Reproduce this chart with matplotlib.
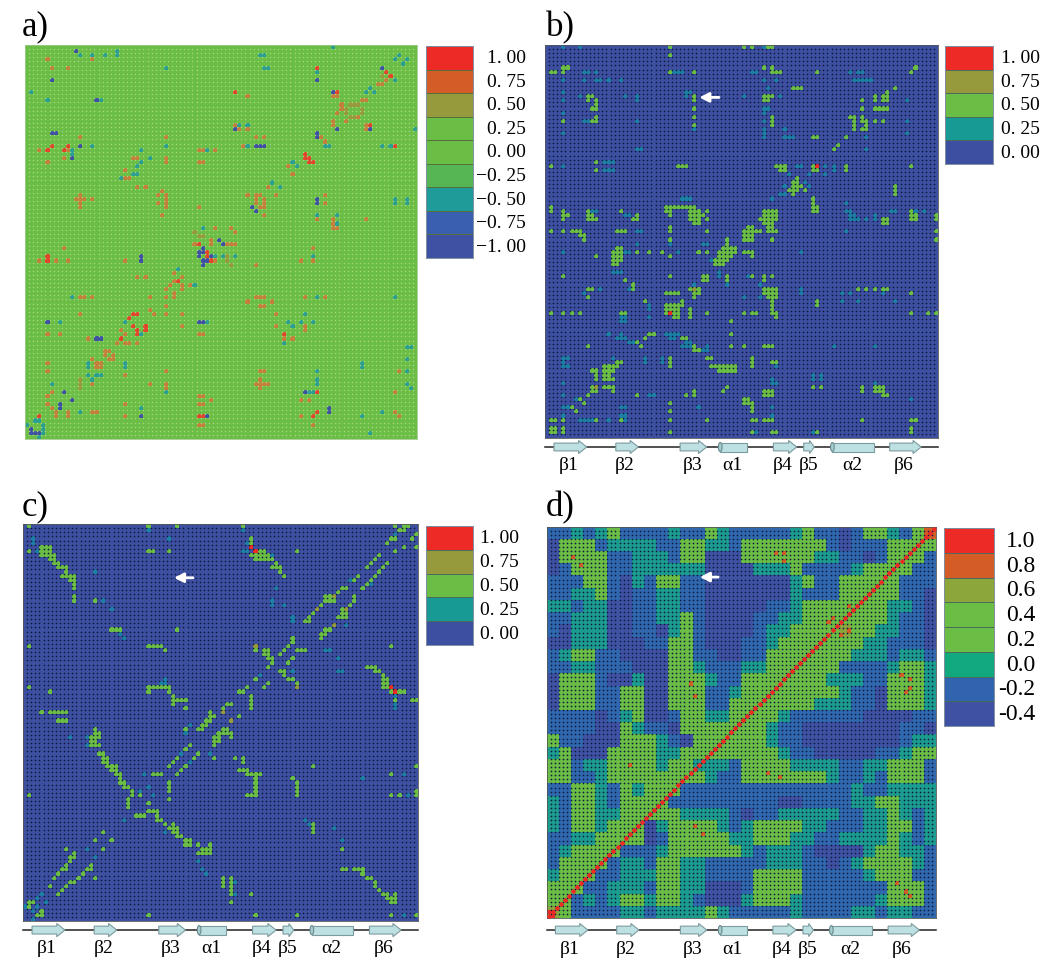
import numpy as np
import matplotlib
matplotlib.use("Agg")
import matplotlib.pyplot as plt
from matplotlib.colors import ListedColormap, BoundaryNorm
from matplotlib.patches import Polygon, Ellipse, Rectangle

N = 96
W, H = 1050, 962
SERIF = "Liberation Serif"

# ---- colour scales ----
A_LEVELS = [-1.0, -0.75, -0.5, -0.25, 0.0, 0.25, 0.5, 0.75, 1.0]
A_COLORS = ["#3f51a3", "#3a5fb0", "#1f9c9a", "#55b653", "#6abd45", "#6abd45", "#979a3c", "#d35c27", "#ee2a27"]
A_MAP_COLORS = ["#3f51a3", "#3a5fb0", "#2a9f92", "#55b653", "#6abd45", "#6abd45", "#979a3c", "#c47f3a", "#e2452c"]
A_LABELS = ["\u22121. 00", "\u22120. 75", "\u22120. 50", "\u22120. 25", "0. 00", "0. 25", "0. 50", "0. 75", "1. 00"]
B_LEVELS = [0.0, 0.25, 0.5, 0.75, 1.0]
B_COLORS = ["#3d4fa1", "#179a94", "#6abd45", "#979a3c", "#ee2a27"]
B_MAP_COLORS = ["#3d4fa1", "#1c7fa6", "#6abd45", "#979a3c", "#ee2a27"]
B_LABELS = ["0. 00", "0. 25", "0. 50", "0. 75", "1. 00"]
D_LEVELS = [-0.4, -0.2, 0.0, 0.2, 0.4, 0.6, 0.8, 1.0]
D_COLORS = ["#3f51a3", "#3064af", "#12a97e", "#6abd45", "#6abd45", "#8ca63c", "#d35c27", "#ee2a27"]
D_MAP_COLORS = ["#3f51a3", "#2f68ae", "#1c9c8f", "#6abd45", "#6abd45", "#8ca63c", "#d35c27", "#ee2a27"]
D_LABELS = ["-0.4", "-0.2", "0.0", "0.2", "0.4", "0.6", "0.8", "1.0"]

# ---- panel a: sparse cells, (row, col, col, ...) counted from the top left ----
A_DEEP = [(1,12),(8,71),(8,6),(5,87),(20,51),(21,6,7),(21,71),(22,71),(24,13),(24,56,57,58),(27,11),(11,75),(20,84),(20,76),
          (37,71),(38,71),(39,55),(40,56),(44,75),(47,47),(48,48),(49,43),(50,42,43),(51,42,44,45),(52,43,44,28),(53,43),
          (51,28),(51,5),(67,5),(67,42,43),(71,17,18),(84,9),(84,68),(86,11),(87,8),(88,8),(88,74),(89,74),(90,28),(90,44),
          (93,1),(94,1),(94,2,3),(13,17),(5,58)]
A_TEAL = [(2,13),(2,16),(2,19),(1,22),(2,22),(2,57,58),(0,75),(2,91),(3,90),(5,34),(5,58,59),(6,71),(8,90),(3,93),(4,92),
          (11,1),(13,5),(13,18),(11,83),(10,84),(11,85),(19,54),(19,52),(20,95),(24,73,74),(24,16),(25,28),(24,34),(25,44),
          (24,54),(24,87),(24,89),(25,11),(26,11),(27,30),(28,28),(29,27),(31,26),(31,27),(32,23,24),(29,66),(28,65),
          (33,60),(34,62),(37,90),(38,90),(37,93),(38,93),(41,71),(41,76),(43,76),(44,43),(46,43),(51,46),(51,48),(51,51),
          (51,70),(54,37),(58,41),(61,11),(61,71),(61,90),(65,68),(67,8),(67,44),(67,64),(68,65),(67,67),(67,70),(67,24),
          (70,28),(71,63),(72,63),(73,93,94),(76,93),(77,82),(78,82),(77,15),(78,15),(77,24),(78,24),(79,93),(79,71),
          (80,15),(80,18,17),(81,16),(81,71),(82,71),(82,6),(82,93),(83,94),(84,34),(84,69,70),(88,28),(89,13),(90,82),
          (89,87),(91,2,3),(92,0),(92,4),(93,4),(94,4),(95,3),(94,84)]
A_OLIVE = [(14,79,80,81),(15,78,82),(16,78,82),(17,79,80,81),(7,87),(45,41),(46,42,43),(52,49),(53,50),(51,49),(36,57),
           (82,13),(81,13),(83,13)]
A_ORANGE = [(3,5),(5,6),(5,10),(3,16),(12,54),(14,77),(15,77),(16,76),(18,78),(17,81),(13,82),(13,83),(18,75),(19,75),(8,88),
            (9,86),(9,87),(12,75),(12,76),(19,83),(20,83),(19,51),(20,52),(20,54),(22,13),(22,34),(22,56),(22,58),(22,72),
            (23,73),(25,3),(25,10),(25,42,43),(25,46),(24,53),(27,26,27),(27,34),(28,34),(28,5),(27,9),(28,42,43),(29,64),
            (31,65),(30,24),(32,24),(32,25),(34,27),(34,29),(34,59),(36,61),(36,13),(37,12,13,14,16),(38,13),(39,13),(35,33),
            (36,32),(38,32),(36,34),(37,34),(38,34),(39,34),(36,54),(36,56,57),(37,56,58),(38,56,58),(39,57,58),(36,73),
            (38,73),(41,33),(39,42),(41,58),(42,71),(42,75),(43,75),(44,75),(44,76),(42,83),(44,46),(44,50),(45,51),(47,45),
            (48,41),(48,45),(48,49,50),(48,51),(49,9),(49,70),(52,3),(52,7),(52,10),(52,24),(52,46),(53,56),(52,67),(52,70),
            (56,27),(56,29),(55,36),(56,38),(57,36),(58,38),(58,40),(58,35),(59,34),(59,38),(60,36),(61,30),(61,34),(61,36),
            (61,13,14),(61,16),(61,56,57,58),(62,54),(62,60),(63,57),(63,58),(61,68),(61,73),(64,30),(65,31),(63,34),(65,34),
            (65,13),(65,38),(68,38),(65,61),(68,61),(69,68),(68,68),(69,23),(70,24),(71,15),(70,5),(70,8),(70,42,43),(71,63),
            (71,65),(72,22),(72,24),(72,25),(72,27),(74,19),(74,20),(75,21),(75,19),(76,20),(76,21),(76,16),(77,17,18),
            (78,17,18),(77,5),(79,5),(80,24),(79,34),(79,57,58),(79,91),(82,16),(82,30),(82,34),(83,34),(82,56,57,58,59),
            (81,57),(83,57),(84,6),(85,5),(85,42,43),(86,45),(86,69),(86,67),(84,90),(87,5),(88,6),(89,7),(89,10),(89,16),
            (89,17),(87,24),(87,42,43),(89,90),(90,91),(90,7),(90,10),(90,24),(90,67),(92,42,43),(92,70)]
A_RED = [(5,71),(6,88),(7,89),(11,76),(11,51),(19,84),(24,6),(24,10),(24,90),(25,5),(25,9),(26,68),(27,68,69),(28,69,70),
         (48,42),(50,44),(51,5),(52,5),(52,45),(51,44),(57,37),(65,26,27),(66,25),(68,26),(69,27),(70,27),(68,29),(69,29),
         (71,23),(70,63),(84,71),(89,71),(90,3),(90,42,43),(90,70)]

# ---- panel b ----
B_GREEN = [(0,30,48,50,54,55),(2,30),(5,4,5,53,55,90),(6,1,2,4,30,36,55,56,57,66,89),(10,60,61,62,85),(11,83),
           (12,10,11,36,53,54,55,80,82,83),(13,10,12,36,53,54,77,80,82,83),(14,12),(15,11,12,36,77,80,81,82,83),
           (17,12,36,55,74,75,77),(18,4,11,12,55,75,77,78,80,82),(19,36,55,75,78),(20,75,77,78),(22,65,66,73),(24,71),
           (25,70),(28,12),(29,1,32,33,34,56,57,58,65,73,89),(30,12,57,58,65,66,73),(32,61),(33,60,61),(34,60,61,62,85),
           (35,59,60,61,63,85),(36,60,85),(37,65),(38,65),(39,65,66),(39,1,29,30,31,32,33,34,35,36),(40,65,66),
           (40,1,4,10,18,29,30,35,36,37,39,53,54,55,56,89),(41,4,5,10,11,22,30,35,36,37,38,53,54,55,56,89,90,95),
           (42,4,10,11,12,21,22,35,36,37,39,52,53,54,55,56,82,83,89,90,95),(43,36,37,53,54,55,82,83),
           (44,30,49,50,54,55),(45,1,4,6,7,8,17,18,19,30,39,48,49,50,51,52,54,55,56,95),(46,8,9,48,49,50),
           (47,9,30,44,48,49,50,55,95),(48,44),(49,17,18,43,44,45,46),(50,16,17,18,22,25,28,37,39,42,43,44,45,46,48,49,50),
           (51,12,16,17,18,30,42,43,44,45,50),(52,16,17,18,41,42,43,44),(53,16,17,41,42,43),(56,4,30,38,39,44,50,53,55),
           (57,19,38,39,44,53),(58,21),(59,10,11,21,35,37,53,54,55,56,76,78,80,82,83),(60,29,30,31,32,36,37,53,54,55,56,89),
           (61,10,36,54,55,56),(62,24,33,55,66),(63,29,30,31,32,33,55,66),(64,29,30,31,32,35,55),
           (65,1,4,6,8,18,19,29,31,32,35,39,48,50,51,55,56,89,93,95),(66,31,32,35,56),(67,45),(70,25,26,45),(71,24,33,34),
           (72,22),(73,23,10,36,45,48,53,54,55),(74,36,37),(76,39,40,30,50),(77,17,18,30,50,55,56),
           (78,14,15,16,17,30,40,41,42,43,44,45,46,50),(79,11,12,14,15,16,42,43,44,45,46),(80,12,14,15),(81,12,14,15,16),
           (83,11,14,15,16,44,65,67,77,80,81,82),(84,11,12,16,36,43,53,54,55,77,80,81,82),(85,10,22,34,36,53,54,55,82,83),
           (86,8,48,49),(87,9,30,48,49,50),(88,6,50),(89,7,30,50),(91,1,2,4,12,18,30,39,50,51,53,54,55,77,89,90),
           (93,1,2,4,89),(94,1,2,4,30,50,55,56,66,89)]
B_TEAL = [(0,4,8,53),(6,9,10,12,31,32,33,50,51,74,76,77),(8,4,9,12,13,15,18,53,56,75,76,77,78,79),(10,54),(11,4,34,35),
          (12,8,19,22,34,48,57),(13,4,22,88),(15,53,54),(16,4,53),(18,9,10,22,53,88),(20,36,53,58),(21,4,53,88),
          (22,53,58,59,60,78),(25,22,23,78),(28,14,15,16),(30,14,15,16,70),(29,4,61,62,68,70),(31,59,64,68),
          (33,63),(34,58,64),(36,57,58),(37,33,34,35,55),(38,73),(40,11,12,73,74,84,85,90,92),(41,19,20,74,75,80),
          (42,74,75,76,78,80),(45,22,23,73),(48,38,39,22,30),(50,4,19,20,32,62),(52,44,40),(55,16,17,18,42),
          (56,42,49),(58,36,44,52),(59,13,20,62),(60,9,62,72,74,82),(61,48,52),(62,72,76,85),(63,25),(64,25),(66,18,19,25),
          (67,18,19),(70,15,18,29,30,31,32),(71,17,18,19,30,31),(72,20,21,34,35),(73,33,34,35,39,70,80),(74,38,39),
          (76,4,5,16,24,28),(77,4,24,28),(78,4,5,56),(80,65,67),(81,65,67,55),(82,4,55,56,80),(85,4,26,25),(86,7,89),
          (88,4,5,18,19,37,55),(90,4,18,19,55),(91,8,9,10,11,15,19),(94,50,51,65)]
B_OLIVE = [(83,12),(59,36)]
B_RED = [(29,66),(65,30)]

# ---- panel c ----
C_GREEN = [(0,1,30,37,53,90,92,93),(1,92,91),(2,95),(3,55,89,90,94),(4,55,88),(5,4,5,6,92,95),(6,1,4,5,6,30,31,35,57,58,66,90),
           (7,4,5,6,7,55,56,57,58,59,86),(8,6,7,56,57,58,59,60,85),(9,7,8,61,84,88),(10,8,9,10,60,61,62,83,87),
           (11,10,62,86),(12,9,10,11,12,63,81,85),(13,11,12,84,80),(14,12,83),(15,12,77,78,82),(16,76),(17,12,73,74,80),
           (18,12,17,73,74,75,80),(19,72,79),(20,77),(21,70,77,78),(22,69,76,77,78),(23,68,69),(25,21,22,23,37,73,74),
           (26,72,73),(27,72,65),(28,65),(29,1,30,31,32,33,64,89),(30,34,56,58,59,63,66,67,68),(31,58,59,62),(32,59,60,65),
           (33,60,64),(34,59,83,84,85),(35,62,63,85,86),(36,63,87),(37,56,64,65,87,88),(38,59,66,87,88),(39,1,30,31,32,33,34,35,54,58,87,88),
           (40,6,30,35,52,53,89,91,92),(41,36,55),(42,36,37,38,39,55,90,94,95),(43,36,49,50,55),(44,39,48,55),(45,4,6,7,8,9,10,45),
           (46,45,46,52),(47,8,9,10,44,45),(48,43,44),(49,17,39,42,43,48,49),(50,17,18,47,48,49,50),(51,16,17,18,46,47,50),
           (52,16,17,46,47),(53,16,17,18,40,46),(54,39),(55,18,19,42),(56,19,20,37,41,46,51,53),(57,19,20,36,53),
           (58,20,21,22,35,39,70,95),(59,21,22,38,52,53,54),(60,22,23,31,32,33,37,54,55,56,57,89),(61,23,56,65),
           (62,23,24,35,56,66),(63,24,25,35,56,66),(64,26,35,56,66,95),(65,1,26,28,54,55,56,66,89,91,95),(66,25,35),
           (67,25,30),(68,25),(69,30,31,32),(70,27,28,29,32),(71,32,33),(72,34,36,70),(73,35,36,37,70),(74,19,36,37,70),
           (75,37,38),(76,17,21,39,40),(77,39,40,42,45),(78,10,19,43,44,45,77),(79,12,42,43,44,45),(80,11,12),(81,11),
           (82,10,16),(83,9,10,15,16,77,78,80,81,82),(84,8,14,82),(85,7,13,17,48,50,83,84),(86,11,12,48,50,85),
           (87,6,10,48,50,85),(88,9,50,86),(89,8,50,55,87,88,90),(90,88,89,90),(91,1,2,50,89,90),(92,1),(93,4),(94,3,4,30,56,66,89,95)]
C_TEAL = [(1,30,53),(2,90),(3,2,35),(4,2,54),(6,3,53,54),(7,60),(11,17),(13,79),(14,84),(15,61),(18,60,19),(19,63,60),(20,21),
          (22,65),(23,65),(24,78),(26,23),(27,24),(30,73,74),(32,76),(35,65,76,77),(36,57),(37,34),(38,33,34),(40,90),(41,90),
          (43,90),(44,90),(48,40),(50,39),(51,11,15),(53,15),(55,38,45),(57,40),(60,29),(60,92),(61,82),(63,30),(64,28),
          (65,31,93),(71,24,68),(72,69),(73,75),(74,34),(76,77),(78,15),(80,17),(81,42),(83,43),(84,44),(86,51),(89,51),
          (89,4),(90,3),(91,5),(92,0,3),(93,2),(94,92),(95,2)]
C_OLIVE = [(20,71),(24,75),(29,56),(39,66)]
C_ORANGE = [(17,75),(20,78),(45,48),(47,50)]
C_RED = [(5,55),(6,56),(39,89),(40,90)]

# ---- panel d: coarse map, one digit per 3x3 block, digit = index into D_BLOCK_VALUES ----
D_BLOCK_VALUES = [-0.4, -0.2, 0.0, 0.2, 0.6, 0.8]
D_ROWS = ["11212311 11211321 11112311 01332135",
          "03331222 21133221 33333331 01113333",
          "03333112 22133000 33333322 11013331",
          "01333112 22222000 02223111 12333311",
          "11133102 13311000 00002311 33333111",
          "11223101 12211000 00002111 33333110",
          "22122001 12211000 00112333 33332210",
          "11222001 12231000 01122333 33332110",
          "10222001 10231000 01223333 43322110",
          "00222000 11331000 11233333 33221110",
          "12331100 00331100 11333333 32221221",
          "11221110 00332111 22333333 11112332",
          "03331002 00333211 33333332 22113332",
          "03331133 00333112 33333333 21103332",
          "03331133 00333113 33333322 21103332",
          "11110123 00133223 33321111 11000011",
          "11110032 11033333 33211000 00000110",
          "31100033 32103333 33211000 00000122",
          "23000333 32233333 33321100 00011233",
          "33122333 32332221 33332222 11223331",
          "33112333 33333211 33333332 11213331",
          "11332132 33311111 11111111 12112222",
          "21332133 33111111 11100111 12233222",
          "21332233 33322221 01122222 11223212",
          "21332333 02333321 23333221 11223312",
          "11223333 01333332 23332211 22223212",
          "12333311 12333333 21222100 00233221",
          "13333122 13322111 11222110 12333321",
          "23331122 23322111 13333111 11233311",
          "33311222 13322000 13333111 11113331",
          "33121233 23321000 23332111 11123331",
          "43111122 12222321 11112111 12212211"]
D_RED_CELLS = [(94,0),(94,1),(95,1)]
D_ORANGE = [(7,6),(9,8),(6,56),(6,58),(8,58),(22,70),(23,69),(26,72),(25,74),(19,74),(36,87),(37,89),(39,89),(40,88),
            (38,35),(41,36),(58,20),(60,54),(61,57),(75,38),(73,36),(87,86),(89,88),(90,89)]

# ---- secondary structure (residue ranges) ----
SS_NAMES = ["\u03b21", "\u03b22", "\u03b23", "\u03b11", "\u03b24", "\u03b25", "\u03b12", "\u03b26"]
SS_START = [2.2, 17.3, 33.0, 42.8, 55.8, 63.2, 70.2, 84.2]
SS_END = [10.2, 22.8, 39.5, 49.3, 61.5, 65.8, 80.3, 91.9]
SS_LABEL_X = [5.7, 19.5, 36.0, 45.8, 58.0, 64.4, 75.0, 87.6]


def paint(cells_by_value, background):
    m = np.full((N, N), float(background))
    for value, cells in cells_by_value:
        for entry in cells:
            for c in entry[1:]:
                m[entry[0], c] = value
    return m


def px_axes(x0, y0, x1, y1):
    return fig.add_axes([x0 / W, 1 - y1 / H, (x1 - x0) / W, (y1 - y0) / H])


def draw_map(box, m, levels, colors, dot, dot_size=1.5, spine="#555555"):
    ax = px_axes(*box)
    edges = [levels[0] - 1] + [(a + b) / 2 for a, b in zip(levels, levels[1:])] + [levels[-1] + 1]
    cmap = ListedColormap(colors)
    norm = BoundaryNorm(edges, cmap.N)
    ax.pcolormesh(np.arange(N + 1), np.arange(N + 1), m, cmap=cmap, norm=norm, linewidth=0, rasterized=True)
    gx, gy = np.meshgrid(np.arange(1, N), np.arange(1, N))
    ax.scatter(gx.ravel(), gy.ravel(), s=dot_size, c=dot, linewidths=0, zorder=3)
    ax.set_xlim(0, N)
    ax.set_ylim(N, 0)
    ax.set_xticks([])
    ax.set_yticks([])
    for s in ax.spines.values():
        s.set_linewidth(0.6)
        s.set_color(spine)
    return ax


def draw_bar(box, levels, colors, labels, label_x, size, edge):
    ax = px_axes(*box)
    cmap = ListedColormap(colors)
    n = len(levels)
    ax.pcolormesh([0, 1], np.arange(n + 1), np.arange(n).reshape(-1, 1), cmap=cmap, vmin=0, vmax=n - 1,
                  edgecolors=edge, linewidth=0.5)
    ax.set_xlim(0, 1)
    ax.set_ylim(0, n)
    ax.set_xticks([])
    ax.set_yticks([])
    for s in ax.spines.values():
        s.set_linewidth(0.7)
        s.set_color("#7f8fa0")
    for i, lab in enumerate(labels):
        ax.text(label_x, i + 0.5, lab, transform=ax.get_yaxis_transform(), ha="right", va="center",
                family=SERIF, fontsize=size, clip_on=False)


def draw_ss(ax, line_y, label_y):
    ax.plot([0, N], [line_y, line_y], color="#222222", lw=1.1, clip_on=False, zorder=5)
    for name, a, b, lx in zip(SS_NAMES, SS_START, SS_END, SS_LABEL_X):
        if name.startswith("\u03b2"):
            head = min(2.0, (b - a) * 0.45)
            pts = [(a, line_y - 0.95), (b - head, line_y - 0.95), (b - head, line_y - 1.6), (b, line_y),
                   (b - head, line_y + 1.6), (b - head, line_y + 0.95), (a, line_y + 0.95)]
            ax.add_patch(Polygon(pts, closed=True, fc="#bde0e2", ec="#7d9a9e", lw=0.8, clip_on=False, zorder=6))
        else:
            ax.add_patch(Rectangle((a, line_y - 1.1), b - a, 2.2, fc="#bde0e2", ec="#7d9a9e", lw=0.8, clip_on=False, zorder=6))
            ax.add_patch(Ellipse((a, line_y), 0.9, 2.2, fc="#a4cdd0", ec="#6d8a8e", lw=0.8, clip_on=False, zorder=7))
        ax.text(lx, label_y, name, ha="center", va="center", family=SERIF, fontsize=14, clip_on=False)


def arrow(ax, head_col, tail_col, row):
    ax.annotate("", xy=(head_col, row), xytext=(tail_col, row), zorder=8,
                arrowprops=dict(arrowstyle="-|>,head_width=0.28,head_length=0.55", color="white", lw=2,
                                shrinkA=0, shrinkB=0))


fig = plt.figure(figsize=(W / 100, H / 100), dpi=100, facecolor="white")

# panel a
m_a = paint([(-1.0, A_DEEP), (-0.5, A_TEAL), (0.5, A_OLIVE), (0.75, A_ORANGE), (1.0, A_RED)], 0.0)
draw_map((25, 46, 417, 440), m_a, A_LEVELS, A_MAP_COLORS, "#a4d67c", 1.3, spine="#9fc98a")
draw_bar((426, 47, 473, 259), A_LEVELS, A_COLORS, A_LABELS, 2.12, 14, "#55703a")

# panel b
m_b = paint([(0.25, B_TEAL), (0.5, B_GREEN), (0.75, B_OLIVE), (1.0, B_RED)], 0.0)
ax_b = draw_map((545, 46, 938, 439), m_b, B_LEVELS, B_MAP_COLORS, "#101a3c")
draw_bar((945, 47, 993, 165), B_LEVELS, B_COLORS, B_LABELS, 1.98, 14, "#4a6a5a")
draw_ss(ax_b, 98.2, 102.4)
arrow(ax_b, 37.7, 42.5, 12.8)

# panel c
m_c = paint([(0.25, C_TEAL), (0.5, C_GREEN), (0.75, C_OLIVE), (0.75, C_ORANGE), (1.0, C_RED)], 0.0)
ax_c = draw_map((23, 525, 418, 922), m_c, B_LEVELS, B_MAP_COLORS, "#101a3c")
draw_bar((426, 527, 473, 646), B_LEVELS, B_COLORS, B_LABELS, 1.98, 14, "#4a6a5a")
draw_ss(ax_c, 98.2, 102.5)
arrow(ax_c, 36.7, 41.3, 13.0)

# panel d
blocks = np.array([[D_BLOCK_VALUES[int(ch)] for ch in row.replace(" ", "")] for row in D_ROWS])
m_d = np.kron(blocks, np.ones((3, 3)))
for r, c in D_ORANGE:
    m_d[r, c] = 0.8
for r, c in D_RED_CELLS:
    m_d[r, c] = 1.0
ax_d = draw_map((546.5, 527.5, 936, 919), m_d, D_LEVELS, D_MAP_COLORS, "#101a3c")
diag = np.arange(N) + 0.5
ax_d.plot(diag, N - diag, ls="none", marker="D", ms=2.9, mfc="#ee2a27", mec="none", zorder=4)
draw_bar((944, 529, 994, 727), D_LEVELS, D_COLORS, D_LABELS, 1.82, 17, "#4a6a5a")
draw_ss(ax_d, 98.95, 103.4)
arrow(ax_d, 37.8, 42.3, 12.4)

# panel letters
for s, x, y in [("a)", 22, 27), ("b)", 546, 28), ("c)", 22, 507), ("d)", 546, 508)]:
    fig.text(x / W, 1 - y / H, s, family=SERIF, fontsize=25, ha="left", va="center")

fig.savefig("out.png", dpi=100, facecolor="white")
